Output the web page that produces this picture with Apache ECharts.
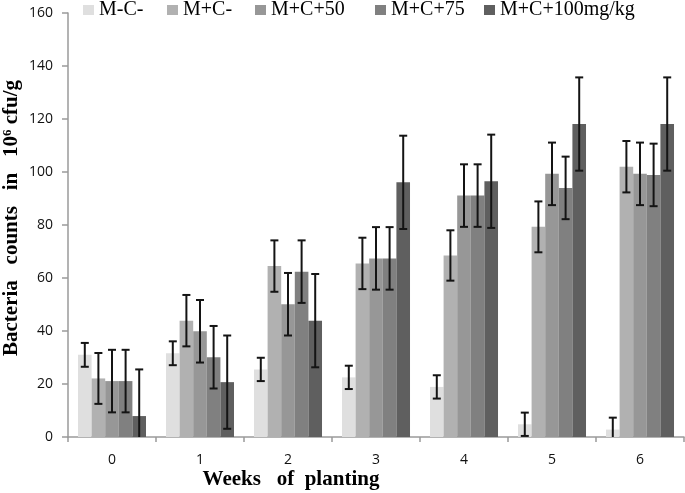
<!DOCTYPE html>
<html>
<head>
<meta charset="utf-8">
<script src="https://cdn.jsdelivr.net/npm/echarts@6/dist/echarts.min.js"></script>
<style>
html,body{margin:0;padding:0;background:#fff;}
#chart{width:685px;height:493px;}
</style>
</head>
<body>
<div id="chart"></div>
<script>
var categories = ['0', '1', '2', '3', '4', '5', '6'];
var seriesNames = ['M-C-', 'M+C-', 'M+C+50', 'M+C+75', 'M+C+100mg/kg'];
var valMCm = [31, 31.6, 25.5, 22.5, 18.9, 4.8, 2.8];
var valMCc = [22.1, 43.9, 64.5, 65.5, 68.5, 79.3, 102];
var valC50 = [21.1, 39.9, 50.1, 67.4, 91.1, 99.3, 99.3];
var valC75 = [21.1, 30.1, 62.4, 67.4, 91.1, 94, 98.9];
var valC100 = [7.9, 20.7, 43.9, 96.1, 96.5, 118.1, 118.1];
var errMCm = [4.5, 4.5, 4.4, 4.4, 4.4, 4.4, 4.5];
var errMCc = [9.6, 9.7, 9.7, 9.7, 9.5, 9.6, 9.7];
var errC50 = [11.8, 11.8, 11.8, 11.8, 11.8, 11.8, 11.8];
var errC75 = [11.8, 11.8, 11.8, 11.8, 11.8, 11.8, 11.8];
var errC100 = [17.6, 17.6, 17.6, 17.6, 17.6, 17.6, 17.6];
var yTicks = [0, 20, 40, 60, 80, 100, 120, 140, 160];

var values = [valMCm, valMCc, valC50, valC75, valC100];
var errors = [errMCm, errMCc, errC50, errC75, errC100];
var colors = ['#dfdfdf', '#b1b1b1', '#979797', '#808080', '#5f5f5f'];
var legendLeft = [83, 167, 255, 375, 484];
var catGap = 0.227;
var nSeries = seriesNames.length;

var series = [];
seriesNames.forEach(function (name, i) {
  series.push({
    name: name,
    type: 'bar',
    data: values[i],
    barGap: '0%',
    barCategoryGap: (catGap * 100) + '%',
    itemStyle: { color: colors[i] },
    z: 2
  });
});
seriesNames.forEach(function (name, i) {
  var data = values[i].map(function (v, k) {
    return [k, v - errors[i][k], v + errors[i][k]];
  });
  series.push({
    name: 'err' + i,
    type: 'custom',
    clip: true,
    z: 5,
    encode: { x: 0, y: [1, 2] },
    data: data,
    renderItem: function (params, api) {
      var k = api.value(0);
      var lo = api.coord([k, api.value(1)]);
      var hi = api.coord([k, api.value(2)]);
      var band = api.size([1, 0])[0];
      var bw = band * (1 - catGap) / nSeries;
      var x = lo[0] + (i - (nSeries - 1) / 2) * bw;
      var cap = 4;
      var st = { stroke: '#141414', lineWidth: 2 };
      return {
        type: 'group',
        children: [
          { type: 'line', shape: { x1: x, y1: lo[1], x2: x, y2: hi[1] }, style: st },
          { type: 'line', shape: { x1: x - cap, y1: lo[1], x2: x + cap, y2: lo[1] }, style: st },
          { type: 'line', shape: { x1: x - cap, y1: hi[1], x2: x + cap, y2: hi[1] }, style: st }
        ]
      };
    }
  });
});

var legends = seriesNames.map(function (name, i) {
  return {
    data: [name],
    left: legendLeft[i],
    top: 0,
    padding: 0,
    icon: 'rect',
    itemWidth: 11,
    itemHeight: 10,
    selectedMode: false,
    textStyle: { fontFamily: 'Liberation Serif', fontSize: 20, color: '#000', lineHeight: 17, padding: [0, 0, 0, 0] }
  };
});

var chart = echarts.init(document.getElementById('chart'), null, { renderer: 'canvas' });
chart.setOption({
  animation: false,
  backgroundColor: '#fff',
  legend: legends,
  grid: { left: 68, right: 1, top: 13, bottom: 56, containLabel: false },
  xAxis: {
    type: 'category',
    data: categories,
    axisLine: { lineStyle: { color: '#9a9a9a', width: 1.5 } },
    axisTick: { show: true, length: 5, lineStyle: { color: '#9a9a9a', width: 1.5 } },
    axisLabel: { margin: 16, fontFamily: 'Open Sans', fontSize: 14, color: '#111' },
    splitLine: { show: false }
  },
  yAxis: {
    type: 'value',
    min: yTicks[0],
    max: yTicks[yTicks.length - 1],
    interval: yTicks[1] - yTicks[0],
    axisLine: { show: true, lineStyle: { color: '#9a9a9a', width: 1.5 } },
    axisTick: { show: true, length: 6, lineStyle: { color: '#9a9a9a', width: 1.5 } },
    axisLabel: { margin: 15, fontFamily: 'Open Sans', fontSize: 14, color: '#111' },
    splitLine: { show: false }
  },
  graphic: [
    {
      type: 'text',
      x: 12, y: 218,
      rotation: Math.PI / 2,
      style: {
        text: 'Bacteria   counts   in   10{sup|6} cfu/g',
        font: 'bold 21px "Liberation Serif"',
        fill: '#000',
        align: 'center',
        verticalAlign: 'middle',
        rich: {
          sup: { fontFamily: 'Liberation Serif', fontWeight: 'bold', fontSize: 13, verticalAlign: 'top', fill: '#000' }
        }
      }
    },
    {
      type: 'text',
      x: 291, y: 480,
      style: {
        text: 'Weeks   of  planting',
        font: 'bold 21px "Liberation Serif"',
        fill: '#000',
        align: 'center',
        verticalAlign: 'middle'
      }
    }
  ],
  series: series
});
</script>
</body>
</html>
